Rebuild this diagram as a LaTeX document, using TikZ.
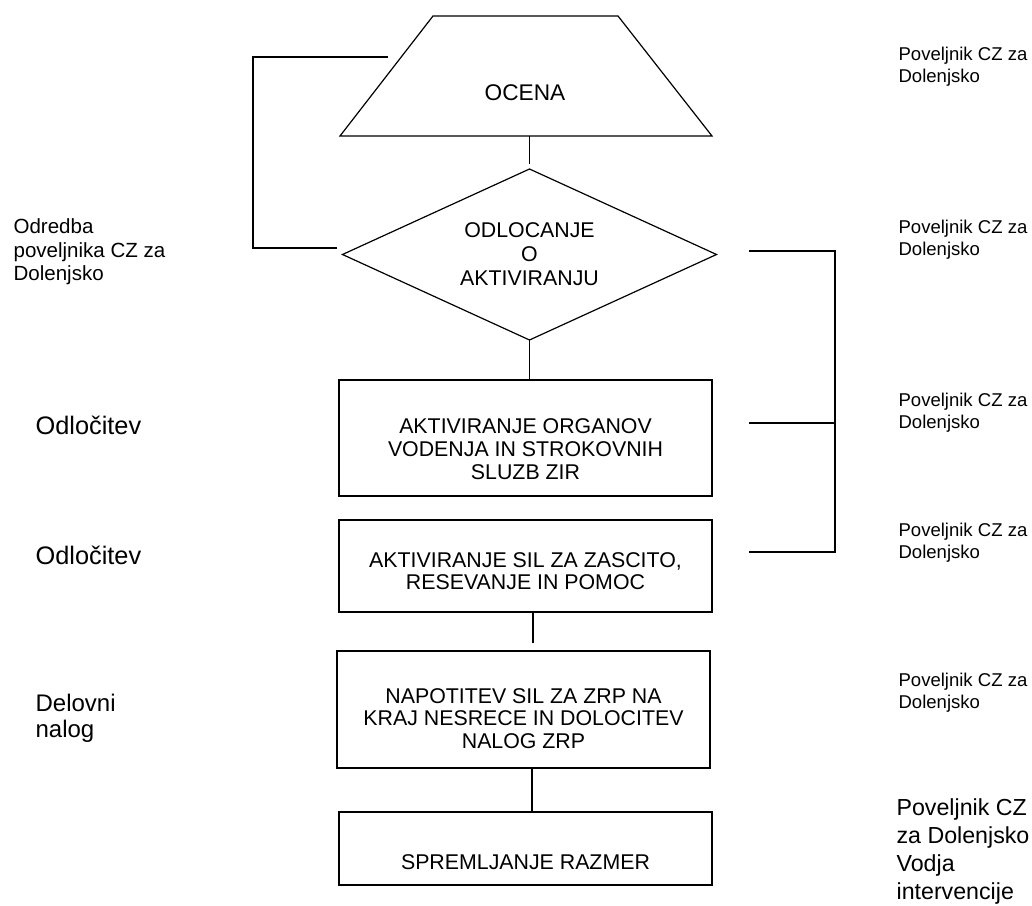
\documentclass[tikz,border=0pt]{standalone}
\usepackage{fontspec}
\setmainfont{Liberation Sans}
\usetikzlibrary{shapes.geometric}
\begin{document}
\begin{tikzpicture}[x=0.75pt,y=-0.75pt,line width=0.9pt,
  flowbox/.style={draw, rectangle, inner sep=0pt, outer sep=0pt, minimum width=279.75pt},
  mtext/.style={font=\fontsize{16}{17}\selectfont, align=center, inner sep=0pt},
  lsmall/.style={font=\fontsize{15.4}{17.6}\selectfont, align=left, anchor=west, inner sep=0pt},
  rsmall/.style={font=\fontsize{13.9}{16.5}\selectfont, align=left, anchor=west, inner sep=0pt},
  lbig/.style={font=\fontsize{19}{21}\selectfont, align=left, anchor=west, inner sep=0pt},
  rbig/.style={font=\fontsize{17.4}{21}\selectfont, align=left, anchor=west, inner sep=0pt},
  dbig/.style={font=\fontsize{18}{19.5}\selectfont, align=left, anchor=west, inner sep=0pt}]
\useasboundingbox (0,0) rectangle (1032,906);

% trapezoid
\coordinate (tsw) at (340,136);
\coordinate (tnw) at (433,16);
\coordinate (tne) at (618,16);
\coordinate (tse) at (712,136);
\draw (tsw) -- (tnw) -- (tne) -- (tse) -- cycle;
\node[mtext, font=\fontsize{17}{19}\selectfont] (t) at (525,93) {OCENA};
\coordinate (tb) at (529.5,136);

% diamond
\node[draw, diamond, aspect=2.19, minimum width=280.5pt, minimum height=128.25pt,
      inner sep=0pt, outer sep=0pt, mtext, font=\fontsize{16}{18}\selectfont]
      (d) at (529.5,254.5) {ODLOCANJE\\O\\AKTIVIRANJU};

% boxes
\node[flowbox, minimum height=87pt,
      label={[mtext,yshift=-8.25pt]center:{AKTIVIRANJE ORGANOV\\VODENJA IN STROKOVNIH\\SLUZB ZIR}}]
      (b1) at (525.5,438) {};
\node[flowbox, minimum height=69pt,
      label={[mtext,yshift=-3.75pt]center:{AKTIVIRANJE SIL ZA ZASCITO,\\RESEVANJE IN POMOC}}]
      (b2) at (525.5,566) {};
\node[flowbox, minimum height=87.75pt,
      label={[mtext,yshift=-6.75pt]center:{NAPOTITEV SIL ZA ZRP NA\\KRAJ NESRECE IN DOLOCITEV\\NALOG ZRP}}]
      (b3) at (523.5,709.5) {};
\node[flowbox, minimum height=54.75pt,
      label={[mtext,yshift=-10.1pt]center:{SPREMLJANJE RAZMER}}]
      (b4) at (525.5,848.5) {};

% connectors
\draw[shorten >=3.5pt] (tb) -- (d.north);
\draw (d.south) -- (d.south |- b1.north);
\draw[shorten >=6pt] ([xshift=5.6pt]b2.south) -- ([xshift=5.6pt]b2.south |- b3.north);
\draw ([xshift=6.4pt]b3.south) -- ([xshift=6.4pt]b3.south |- b4.north);

% left loop
\coordinate (la) at (388,57);
\coordinate (lb) at (337,248);
\draw (la) -- ++(-135,0) |- (lb);

% right bracket
\coordinate (ra) at (749,251);
\coordinate (rb) at (749,423);
\coordinate (rc) at (749,552);
\draw (ra) -- ++(86,0) |- (rc);
\draw (rb) -- ++(86,0);

% left texts
\node[lsmall] (o1) at (13,252) {Odredba\\poveljnika CZ za\\Dolenjsko};
\node[lbig] (o2) at (35,425) {Odločitev};
\node[lbig] (o3) at (35,555) {Odločitev};
\node[dbig] (o4) at (35,718) {Delovni\\nalog};

% right texts
\node[rsmall] (p1) at (898,67) {Poveljnik CZ za\\Dolenjsko};
\node[rsmall] (p2) at (898,240) {Poveljnik CZ za\\Dolenjsko};
\node[rsmall] (p3) at (898,413) {Poveljnik CZ za\\Dolenjsko};
\node[rsmall] (p4) at (898,543) {Poveljnik CZ za\\Dolenjsko};
\node[rsmall] (p5) at (898,693) {Poveljnik CZ za\\Dolenjsko};
\node[rbig] (p6) at (896,851) {Poveljnik CZ\\za Dolenjsko\\Vodja\\intervencije};
\end{tikzpicture}
\end{document}
